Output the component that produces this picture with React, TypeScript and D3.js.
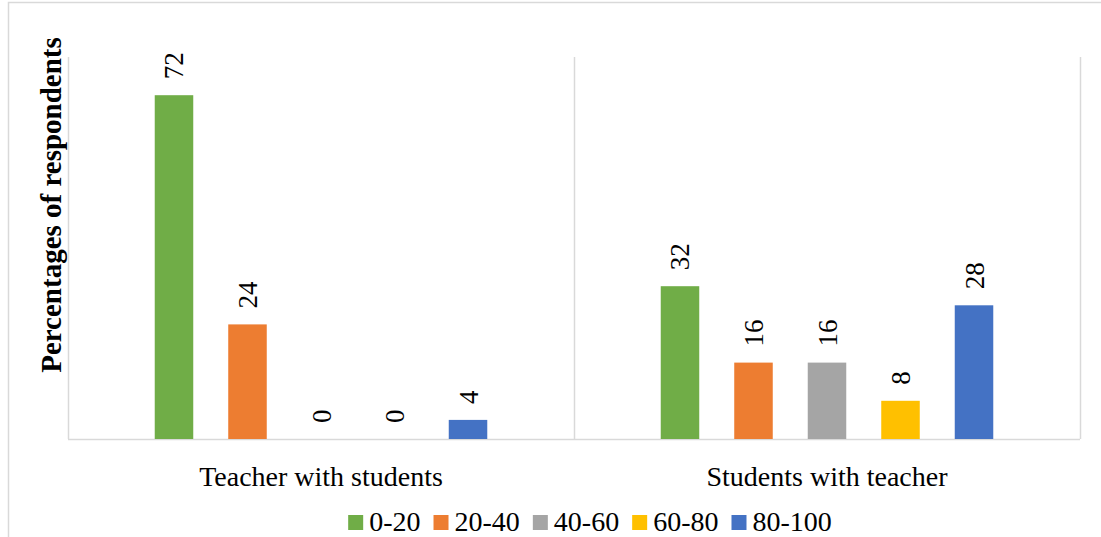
import React, { useEffect, useRef } from "react";
import * as d3 from "d3";

const categories = ["Teacher with students", "Students with teacher"];
const seriesNames = ["0-20", "20-40", "40-60", "60-80", "80-100"];
const seriesColors = ["#70AD47", "#ED7D31", "#A5A5A5", "#FFC000", "#4472C4"];
const teacherWithStudents = [72, 24, 0, 0, 4];
const studentsWithTeacher = [32, 16, 16, 8, 28];
const yTicks = [0, 80];

const W = 1101;
const H = 537;
const FONT = "'Liberation Serif', 'DejaVu Serif', serif";

export default function App() {
  const ref = useRef<SVGSVGElement | null>(null);

  useEffect(() => {
    const svg = d3.select(ref.current);
    svg.selectAll("*").remove();

    const plot = { left: 68, right: 1080, top: 57, bottom: 439 };
    const values = [teacherWithStudents, studentsWithTeacher];

    const x0 = d3.scaleBand<string>().domain(categories).range([plot.left, plot.right]).padding(0);
    const x1 = d3
      .scaleBand<string>()
      .domain(seriesNames)
      .range([0, x0.bandwidth()])
      .paddingInner(0.476)
      .paddingOuter(1.18);
    const y = d3.scaleLinear().domain([yTicks[0], yTicks[1]]).range([plot.bottom, plot.top]);

    // outer frame
    svg
      .append("rect")
      .attr("x", 8.5)
      .attr("y", 2.5)
      .attr("width", 1100)
      .attr("height", 560)
      .attr("fill", "white")
      .attr("stroke", "#d9d9d9")
      .attr("stroke-width", 1.5);

    // vertical category gridlines
    const bounds = [plot.left, ...categories.map((c) => (x0(c) as number) + x0.bandwidth())];
    svg
      .selectAll("line.vgrid")
      .data(bounds)
      .join("line")
      .attr("class", "vgrid")
      .attr("x1", (d) => Math.round(d) + 0.5)
      .attr("x2", (d) => Math.round(d) + 0.5)
      .attr("y1", plot.top)
      .attr("y2", plot.bottom)
      .attr("stroke", "#d9d9d9")
      .attr("stroke-width", 1.5);

    // baseline
    svg
      .append("line")
      .attr("x1", plot.left)
      .attr("x2", plot.right)
      .attr("y1", y(0) + 0.5)
      .attr("y2", y(0) + 0.5)
      .attr("stroke", "#d9d9d9")
      .attr("stroke-width", 1.5);

    // bars & labels
    categories.forEach((cat, ci) => {
      const g = svg.append("g").attr("transform", `translate(${x0(cat)},0)`);
      seriesNames.forEach((s, si) => {
        const v = values[ci][si];
        const bx = x1(s) as number;
        const bw = x1.bandwidth();
        if (v > 0) {
          g.append("rect")
            .attr("x", bx)
            .attr("y", y(v))
            .attr("width", bw)
            .attr("height", y(0) - y(v))
            .attr("fill", seriesColors[si]);
        }
        const cx = bx + bw / 2;
        g.append("text")
          .attr("transform", `translate(${cx + 9.5},${y(v) - 16}) rotate(-90)`)
          .attr("text-anchor", "start")
          .attr("font-family", FONT)
          .attr("font-size", 27)
          .attr("fill", "#000")
          .text(String(v));
      });
      // category label
      svg
        .append("text")
        .attr("x", (x0(cat) as number) + x0.bandwidth() / 2)
        .attr("y", 486)
        .attr("text-anchor", "middle")
        .attr("font-family", FONT)
        .attr("font-size", 28)
        .attr("fill", "#000")
        .text(cat);
    });

    // y axis title
    svg
      .append("text")
      .attr("transform", `translate(61,${(plot.top + plot.bottom) / 2 - 43}) rotate(-90)`)
      .attr("text-anchor", "middle")
      .attr("font-family", FONT)
      .attr("font-weight", "bold")
      .attr("font-size", 29)
      .attr("fill", "#000")
      .text("Percentages of respondents");

    // legend
    const lg = svg.append("g");
    const sq = 15;
    const gapText = 6;
    const gapItem = 13;
    let cursor = 0;
    seriesNames.forEach((s, si) => {
      const item = lg.append("g");
      item
        .append("rect")
        .attr("x", cursor)
        .attr("y", 515)
        .attr("width", sq)
        .attr("height", sq)
        .attr("fill", seriesColors[si]);
      const t = item
        .append("text")
        .attr("x", cursor + sq + gapText)
        .attr("y", 531)
        .attr("font-family", FONT)
        .attr("font-size", 28)
        .attr("fill", "#000")
        .text(s);
      const tw = (t.node() as SVGTextElement).getComputedTextLength();
      cursor += sq + gapText + tw + gapItem;
    });
    const total = cursor - gapItem;
    lg.attr("transform", `translate(${590 - total / 2},0)`);
  }, []);

  return (
    <svg
      ref={ref}
      width={W}
      height={H}
      style={{ position: "absolute", left: 0, top: 0, display: "block", background: "white" }}
    />
  );
}
